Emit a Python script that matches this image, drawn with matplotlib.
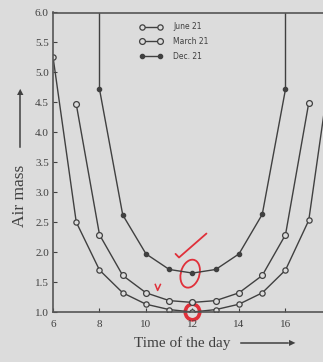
import matplotlib
matplotlib.use("Agg")
import matplotlib.pyplot as plt
from matplotlib.patches import Ellipse

# Air mass readings by hour of day
hours_june = [6, 7, 8, 9, 10, 11, 12, 13, 14, 15, 16, 17, 18]
air_june = [5.26, 2.50, 1.70, 1.32, 1.13, 1.04, 1.00, 1.04, 1.13, 1.32, 1.70, 2.53, 5.26]

hours_march = [7, 8, 9, 10, 11, 12, 13, 14, 15, 16, 17]
air_march = [4.47, 2.29, 1.61, 1.32, 1.19, 1.16, 1.19, 1.32, 1.61, 2.29, 4.49]

# first and last entries are off-scale (sun below horizon side)
hours_dec = [8, 8, 9, 10, 11, 12, 13, 14, 15, 16, 16]
air_dec = [9.0, 4.72, 2.62, 1.97, 1.71, 1.65, 1.71, 1.97, 2.63, 4.72, 9.0]

x_ticks = [6, 8, 10, 12, 14, 16, 18]
y_ticks = [1.0, 1.5, 2.0, 2.5, 3.0, 3.5, 4.0, 4.5, 5.0, 5.5, 6.0]

bg = "#dcdcdc"
ink = "#404040"
red = "#e0303a"

plt.rcParams["font.family"] = ["Liberation Serif", "DejaVu Serif"]

fig = plt.figure(figsize=(3.23, 3.62), dpi=100, facecolor=bg)
ax = fig.add_axes([53 / 323, 50 / 362, 279 / 323, 299.5 / 362], facecolor=bg)

ax.plot(hours_june, air_june, color=ink, lw=1.0, marker="o", ms=3.8,
        mfc=bg, mec=ink, mew=0.9, label="June 21")
ax.plot(hours_march, air_march, color=ink, lw=1.0, marker="o", ms=4.2,
        mfc=bg, mec=ink, mew=0.9, label="March 21")
ax.plot(hours_dec, air_dec, color=ink, lw=1.0, marker="o", ms=3,
        mfc=ink, mec=ink, markevery=list(range(1, len(hours_dec) - 1)),
        label="Dec. 21")

ax.set_xlim(6, 18)
ax.set_ylim(1.0, 6.0)
ax.set_xticks(x_ticks)
ax.set_yticks(y_ticks)
ax.set_yticklabels([f"{v:.1f}" for v in y_ticks])
ax.tick_params(direction="in", length=3, width=0.8, colors=ink,
               labelsize=8, pad=3)
ax.tick_params(axis="x", pad=6)
for s in ax.spines.values():
    s.set_color("#555555")
    s.set_linewidth(1.2)

leg = ax.legend(loc="upper left", bbox_to_anchor=(0.285, 0.99), frameon=False,
                numpoints=2, handlelength=3.0, handletextpad=1.4,
                labelspacing=0.75, prop={"family": "DejaVu Sans", "size": 5.5})
for t in leg.get_texts():
    t.set_color(ink)

# axis titles with arrows
fig.text(182 / 323, 1 - 343 / 362, "Time of the day", ha="center", va="center",
         fontsize=11, color=ink)
fig.add_artist(plt.Line2D([241 / 323, 288 / 323], [1 - 343 / 362] * 2, color=ink, lw=1.1))
fig.text(292 / 323, 1 - 343 / 362, "▶", ha="center", va="center",
         fontsize=6, color=ink, family="DejaVu Sans")
fig.text(20 / 323, 1 - 196 / 362, "Air mass", ha="center", va="center",
         rotation=90, fontsize=12.5, color=ink)
fig.add_artist(plt.Line2D([20 / 323] * 2, [1 - 147 / 362, 1 - 95 / 362], color=ink, lw=1.1))
fig.text(20 / 323, 1 - 92 / 362, "▲", ha="center", va="center",
         fontsize=6, color=ink, family="DejaVu Sans")

# handwritten red marks
ax.plot([11.27, 11.42, 12.6], [1.97, 1.91, 2.31], color=red, lw=1.3,
        solid_capstyle="round")
ax.plot([10.4, 10.5, 10.62], [1.46, 1.36, 1.46], color=red, lw=1.1)
ax.add_patch(Ellipse((11.9, 1.64), 0.85, 0.45, angle=10, fill=False,
                     ec=red, lw=1.3))
ax.add_patch(Ellipse((12.0, 1.0), 0.62, 0.26, fill=False, ec=red, lw=2.6,
                     clip_on=False))

fig.savefig("out.png", dpi=100, facecolor=bg)
